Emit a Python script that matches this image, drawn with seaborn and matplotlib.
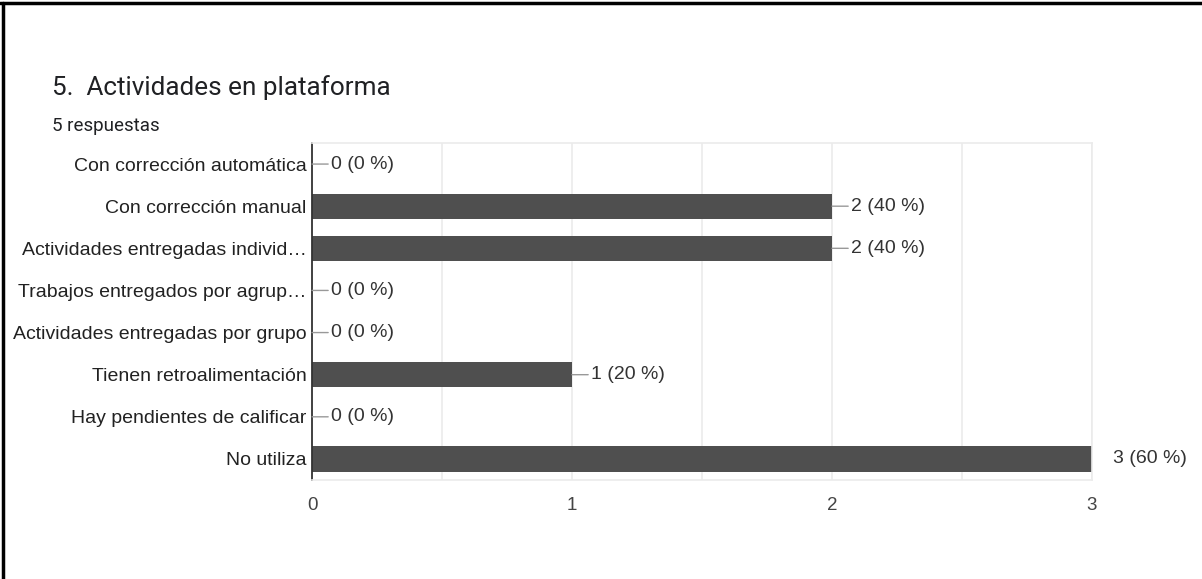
import numpy as np
import pandas as pd
import matplotlib
matplotlib.use("Agg")
import matplotlib.pyplot as plt
import seaborn as sns

# data
categories = ["Con corrección automática", "Con corrección manual",
              "Actividades entregadas individ…", "Trabajos entregados por agrup…",
              "Actividades entregadas por grupo", "Tienen retroalimentación",
              "Hay pendientes de calificar", "No utiliza"]
counts = [0, 2, 2, 0, 0, 1, 0, 3]
total = 5
xticks = [0, 1, 2, 3]

df = pd.DataFrame({"cat": categories, "n": counts})

sns.set_theme(style="white")
plt.rcParams["font.family"] = ["Liberation Sans", "DejaVu Sans"]

fig = plt.figure(figsize=(12.02, 5.79), dpi=100)
ax = fig.add_axes([312 / 1202, 1 - 480 / 579, 780 / 1202, 337 / 579])

sns.barplot(data=df, x="n", y="cat", color="#4f4f4f", saturation=1,
            width=0.6, ax=ax, edgecolor="none")

ax.set_xlim(0, 3)
ax.set_ylim(len(categories) - 0.5, -0.5)
ax.set_xticks(np.arange(0, 3.01, 0.5))
ax.set_xticklabels([str(int(v)) if v in xticks else "" for v in np.arange(0, 3.01, 0.5)])
ax.xaxis.grid(True, color="#ebebeb", linewidth=1.2)
ax.set_axisbelow(True)
ax.set_xlabel("")
ax.set_ylabel("")
ax.tick_params(axis="x", length=0, pad=12, labelsize=13.5, labelcolor="#444444")
ax.tick_params(axis="y", length=0, pad=4, labelsize=14, labelcolor="#222222")

for s in ["top", "right", "bottom"]:
    ax.spines[s].set_color("#ebebeb")
    ax.spines[s].set_linewidth(1.2)
ax.spines["left"].set_color("#333333")
ax.spines["left"].set_linewidth(1.3)

# value labels with leader lines
for i, n in enumerate(counts):
    lab = f"{n} ({round(n / total * 100)} %)"
    if n == max(counts):
        ax.annotate(lab, xy=(n, i), xytext=(15, 0), textcoords="offset points",
                    va="center", ha="left", fontsize=14, color="#333333",
                    annotation_clip=False)
    else:
        ax.annotate(lab, xy=(n, i), xytext=(14, 0), textcoords="offset points",
                    va="center", ha="left", fontsize=14, color="#333333",
                    arrowprops=dict(arrowstyle="-", color="#999999", lw=1,
                                    shrinkA=0, shrinkB=0),
                    annotation_clip=False)

# header
fig.text(52 / 1202, 1 - 88 / 579, "5.  Actividades en plataforma", fontsize=18.8,
         family=["Roboto", "DejaVu Sans"], color="#202124", va="center")
fig.text(52 / 1202, 1 - 126 / 579, "5 respuestas", fontsize=13.5,
         family=["Roboto", "DejaVu Sans"], color="#202124", va="center")

# screenshot border (top and left)
fig.add_artist(plt.Line2D([0, 1], [1 - 3 / 579, 1 - 3 / 579], color="black", lw=2.5,
                          transform=fig.transFigure))
fig.add_artist(plt.Line2D([3 / 1202, 3 / 1202], [0, 1 - 3 / 579], color="black", lw=2.5,
                          transform=fig.transFigure))

fig.savefig("out.png", dpi=100)
